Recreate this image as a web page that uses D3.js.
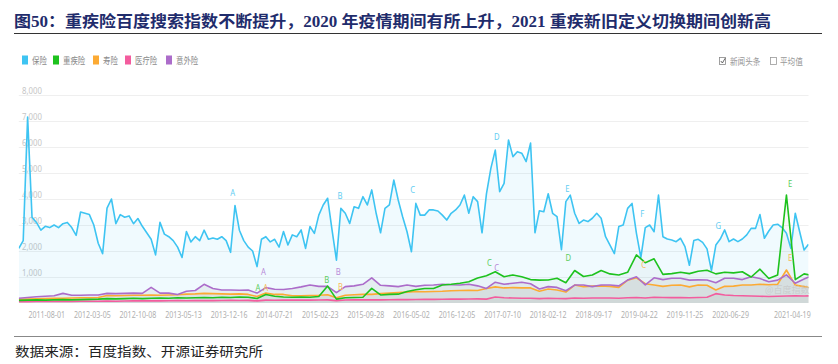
<!DOCTYPE html>
<html>
<head>
<meta charset="utf-8">
<script src="https://cdn.jsdelivr.net/npm/d3@7"></script>
<style>
  body { margin: 0; background: #fff; }
  svg { display: block; }
</style>
</head>
<body>
<div id="chart"></div>
<script>
// series names and colours
const seriesNames = ['保险', '重疾险', '寿险', '医疗险', '意外险'];
const seriesColors = ['#3ec4f2', '#1ec21e', '#fcaa33', '#f35c9e', '#ac6cca'];

// 保险: one value every 3 weeks from startDate
const startDate = '2011-03-21';
const baoxian = [
  2100, 2400, 7150, 3300, 3100, 2800, 2950, 2900, 3000, 2900,
  3050, 3100, 2900, 2600, 3500, 3450, 3400, 3000, 2300, 1900,
  3650, 4000, 3050, 3400, 3300, 3350, 3050, 3250, 2950, 2700,
  2450, 1850, 3100, 2650, 2550, 2400, 2150, 1750, 2750, 2350,
  2550, 2400, 2800, 2450, 2500, 2450, 2550, 2400, 1950, 3750,
  2800, 2400, 2150, 2000, 1400, 2450, 2550, 2350, 2450, 2150,
  2750, 2230, 2620, 2550, 2810, 2100, 2940, 2680, 3380, 3770,
  4030, 2810, 1650, 3640, 3450, 3060, 3700, 3640, 4090, 3770,
  4350, 3450, 2700, 3640, 3770, 4730, 3960, 3320, 2740, 1970,
  3830, 3380, 3380, 3580, 3580, 3540, 3380, 3190, 3450, 3580,
  3770, 4150, 3450, 4090, 3900, 2700, 4200, 5180, 5880, 4280,
  4600, 6270, 5630, 5820, 5760, 5440, 6150, 2700, 3550, 3510,
  4200, 3450, 3320, 2050, 3900, 4150, 3450, 3060, 3190, 3130,
  3260, 3450, 3260, 2550, 2230, 1900, 2940, 3000, 3640, 3830,
  2680, 1750, 2900, 3000, 2740, 4150, 2550, 2460, 2420, 2360,
  2490, 2170, 1450, 2400, 2450, 2330, 2080, 1250, 2230, 2460,
  2810, 2360, 2460, 2360, 2460, 2620, 2870, 2870, 3400, 2490,
  2770, 3000, 3030, 2900, 2680, 2100, 3450, 2740, 2040, 2260
];

// the other four: one value every 6 weeks from startDate
const zhongji = [
  100, 110, 120, 110, 120, 130, 120, 130, 140, 150,
  170, 160, 170, 180, 170, 180, 190, 180, 200, 190,
  200, 210, 200, 220, 210, 230, 220, 170, 330, 260,
  230, 220, 230, 220, 250, 650, 150, 200, 210, 220,
  560, 310, 330, 340, 440, 510, 560, 560, 690, 720,
  760, 820, 960, 1050, 1200, 1010, 1080, 1010, 900, 880,
  885, 950, 780, 1250, 1020, 1080, 1250, 1120, 1080, 1180,
  1850, 1550, 1700, 1100, 1130, 1180, 1130, 1220, 1260, 1120,
  1180, 1160, 1200, 1000, 1300, 940, 1080, 4150, 900, 1120,
  1050
];
const shouxian = [
  140, 150, 160, 170, 180, 180, 190, 200, 200, 210,
  290, 280, 290, 300, 300, 310, 300, 310, 320, 340,
  350, 370, 360, 350, 340, 350, 330, 250, 380, 330,
  330, 280, 280, 290, 300, 320, 200, 300, 320, 330,
  330, 360, 380, 400, 420, 440, 430, 440, 450, 470,
  480, 490, 480, 560, 620, 580, 590, 580, 580, 450,
  540, 500, 420, 690, 630, 650, 660, 640, 600, 880,
  970, 740, 690, 640, 680, 690, 620, 690, 680, 500,
  640, 650, 690, 690, 720, 700, 720, 1270, 690, 630,
  570
];
const yiliao = [
  50, 50, 55, 60, 60, 65, 60, 65, 70, 70,
  75, 70, 75, 80, 80, 85, 80, 85, 90, 85,
  90, 95, 90, 95, 100, 95, 100, 80, 110, 105,
  110, 110, 115, 110, 115, 120, 90, 115, 120, 120,
  125, 120, 125, 130, 130, 135, 140, 140, 145, 150,
  150, 155, 160, 150, 230, 200, 190, 180, 185, 170,
  180, 175, 170, 190, 185, 190, 195, 190, 180, 200,
  210, 190, 220, 210, 205, 210, 200, 210, 220, 360,
  310, 290, 280, 270, 260, 250, 260, 270, 280, 270,
  280
];
const yiwai = [
  180, 210, 240, 260, 280, 370, 300, 300, 310, 310,
  370, 360, 370, 380, 370, 600, 380, 380, 330, 450,
  480, 720, 560, 500, 500, 490, 500, 380, 590, 530,
  520, 560, 620, 690, 640, 640, 400, 630, 660, 720,
  970, 680, 660, 630, 690, 640, 680, 690, 720, 700,
  690, 720, 660, 560, 800, 720, 760, 800, 740, 540,
  630, 600, 470, 690, 690, 630, 690, 690, 660, 880,
  1010, 700, 970, 900, 950, 950, 880, 890, 885, 780,
  950, 950, 900, 1010, 940, 820, 880, 1080, 760, 920,
  1080
];

const xTicks = ['2011-08-01', '2012-03-05', '2012-10-08', '2013-05-13', '2013-12-16',
  '2014-07-21', '2015-02-23', '2015-09-28', '2016-05-02', '2016-12-05', '2017-07-10',
  '2018-02-12', '2018-09-17', '2019-04-22', '2019-11-25', '2020-06-29', '2021-04-19'];
const yTicks = [1000, 2000, 3000, 4000, 5000, 6000, 7000, 8000];

// event letters: series index, letter, date, value
const notes = [
  [0, 'A', '2014-01-02', 4220], [0, 'B', '2015-05-28', 4130], [0, 'C', '2016-05-08', 4350],
  [0, 'D', '2017-06-12', 6400], [0, 'E', '2018-05-14', 4380], [0, 'F', '2019-05-06', 3410],
  [0, 'G', '2020-05-02', 2970],
  [1, 'A', '2014-05-02', 600], [1, 'B', '2015-03-26', 885], [1, 'C', '2017-05-08', 1530],
  [1, 'D', '2018-05-19', 1720], [1, 'E', '2021-04-09', 4580],
  [4, 'A', '2014-05-28', 1180], [4, 'B', '2015-05-20', 1180], [4, 'C', '2017-06-12', 1335],
  [2, 'A', '2014-06-08', 600], [2, 'B', '2015-05-30', 620], [2, 'C', '2019-05-13', 1460],
  [2, 'E', '2021-04-09', 1720]
];
const noteColors = ['#62cdf2', '#5ccd5c', '#f8bb5a', '#f07fb0', '#b98ad8'];

const width = 838, height = 364;
const parse = d3.utcParse('%Y-%m-%d');
const start = parse(startDate);

const svg = d3.select('#chart').append('svg')
  .attr('width', width)
  .attr('height', height);

svg.append('rect').attr('width', width).attr('height', height).attr('fill', '#fff');

const x = d3.scaleUtc()
  .domain([start, d3.utcDay.offset(start, (baoxian.length - 1) * 21)])
  .range([18.8, 808.5]);
const y = d3.scaleLinear().domain([0, 8000]).range([303, 95]);

// squeeze text horizontally like the screenshot
function squeeze(sel, k) {
  sel.each(function () {
    const w = this.getComputedTextLength();
    d3.select(this).attr('textLength', w * k).attr('lengthAdjust', 'spacingAndGlyphs');
  });
}

// title
svg.append('text')
  .attr('x', 14).attr('y', 27)
  .attr('font-family', '"Liberation Serif", "Noto Sans CJK SC", serif')
  .attr('font-weight', 'bold')
  .attr('font-size', 16)
  .attr('fill', '#1f2c6c')
  .attr('textLength', 757).attr('lengthAdjust', 'spacingAndGlyphs')
  .text('图50：重疾险百度搜索指数不断提升，2020 年疫情期间有所上升，2021 重疾新旧定义切换期间创新高');

svg.append('line').attr('x1', 14).attr('x2', 822).attr('y1', 33.5).attr('y2', 33.5)
  .attr('stroke', '#333').attr('stroke-width', 1.2);

// legend
const legendX = [22, 53, 93, 125, 166];
const legend = svg.append('g').attr('font-family', '"Noto Sans CJK SC", sans-serif').attr('font-size', 9.5);
seriesNames.forEach((name, i) => {
  legend.append('rect').attr('x', legendX[i]).attr('y', 55.5).attr('width', 6).attr('height', 9)
    .attr('fill', seriesColors[i]);
  legend.append('text').attr('x', legendX[i] + 10).attr('y', 63.5)
    .attr('fill', '#8a8a8a').text(name);
});
squeeze(legend.selectAll('text'), 0.78);

// check boxes on the right
const checks = svg.append('g').attr('font-family', '"Noto Sans CJK SC", sans-serif').attr('font-size', 9.5);
checks.append('rect').attr('x', 719.5).attr('y', 57.5).attr('width', 6).attr('height', 7)
  .attr('fill', 'none').attr('stroke', '#888').attr('stroke-width', 0.8);
checks.append('path').attr('d', 'M720.8,61 L722.4,63 L725.2,58.2')
  .attr('fill', 'none').attr('stroke', '#555').attr('stroke-width', 0.9);
checks.append('text').attr('x', 730).attr('y', 64.5).attr('fill', '#999').text('新闻头条');
checks.append('rect').attr('x', 770.5).attr('y', 57.5).attr('width', 6).attr('height', 7)
  .attr('fill', 'none').attr('stroke', '#999').attr('stroke-width', 0.8);
checks.append('text').attr('x', 780).attr('y', 64.5).attr('fill', '#999').text('平均值');
squeeze(checks.selectAll('text'), 0.8);

// grid + y labels
const grid = svg.append('g');
grid.selectAll('line').data(yTicks).join('line')
  .attr('x1', 18.8).attr('x2', 808.5)
  .attr('y1', d => y(d) + 0.5).attr('y2', d => y(d) + 0.5)
  .attr('stroke', '#efefef');
const yLab = grid.selectAll('text').data(yTicks).join('text')
  .attr('x', 22).attr('y', d => y(d) - 1.5)
  .attr('font-family', '"Noto Sans", sans-serif').attr('font-size', 9.5)
  .attr('fill', '#c6c6c6')
  .text(d3.format(','));
squeeze(yLab, 0.82);

// series tables
const series = [baoxian, zhongji, shouxian, yiliao, yiwai].map((vals, k) => {
  const step = k === 0 ? 21 : 42;
  return vals.map((v, i) => ({ date: d3.utcDay.offset(start, i * step), v }));
});

svg.append('clipPath').attr('id', 'plot')
  .append('rect').attr('x', 18.8).attr('y', 80).attr('width', 808.5 - 18.8).attr('height', 223);

const plot = svg.append('g').attr('clip-path', 'url(#plot)');

const area = d3.area().x(d => x(d.date)).y0(y(0)).y1(d => y(d.v));
const line = d3.line().x(d => x(d.date)).y(d => y(d.v));

// blue fill, then greyish fills under the small series
const areaFill = ['#3ec4f2', '#8f9a96', '#8c8a80', '#8c8a80', '#8c8a80'];
const areaOpacity = [0.08, 0.06, 0.1, 0.08, 0.1];
series.forEach((s, k) => {
  plot.append('path').datum(s)
    .attr('d', area)
    .attr('fill', areaFill[k])
    .attr('fill-opacity', areaOpacity[k]);
});

const drawOrder = [0, 3, 2, 4, 1];
drawOrder.forEach(k => {
  plot.append('path').datum(series[k])
    .attr('d', line)
    .attr('fill', 'none')
    .attr('stroke', seriesColors[k])
    .attr('stroke-width', 1.6)
    .attr('stroke-linejoin', 'round');
});

// event letters
const noteText = svg.append('g').selectAll('text').data(notes).join('text')
  .attr('x', d => x(parse(d[2])))
  .attr('y', d => y(d[3]))
  .attr('dy', '0.35em')
  .attr('text-anchor', 'middle')
  .attr('font-family', '"Noto Sans", sans-serif')
  .attr('font-size', 9)
  .attr('fill', d => noteColors[d[0]])
  .text(d => d[1]);
squeeze(noteText, 0.85);

// watermark
svg.append('text').attr('x', 765).attr('y', 293)
  .attr('font-family', '"Noto Sans CJK SC", sans-serif').attr('font-size', 9)
  .attr('fill', '#c4c4c4').attr('fill-opacity', 0.7)
  .text('@百度指数');

// x labels
const xLab = svg.append('g').selectAll('text').data(xTicks).join('text')
  .attr('x', d => x(parse(d)))
  .attr('y', 317.5)
  .attr('text-anchor', 'middle')
  .attr('font-family', '"Noto Sans", sans-serif').attr('font-size', 9.5)
  .attr('fill', '#b0b0b0')
  .text(d => d);
squeeze(xLab, 0.74);

// footer
svg.append('line').attr('x1', 14).attr('x2', 822).attr('y1', 336.5).attr('y2', 336.5)
  .attr('stroke', '#888').attr('stroke-width', 1);
svg.append('text').attr('x', 15).attr('y', 356)
  .attr('font-family', '"Noto Sans CJK SC", sans-serif').attr('font-size', 13)
  .attr('fill', '#222')
  .attr('textLength', 248).attr('lengthAdjust', 'spacingAndGlyphs')
  .text('数据来源：百度指数、开源证券研究所');
</script>
</body>
</html>
